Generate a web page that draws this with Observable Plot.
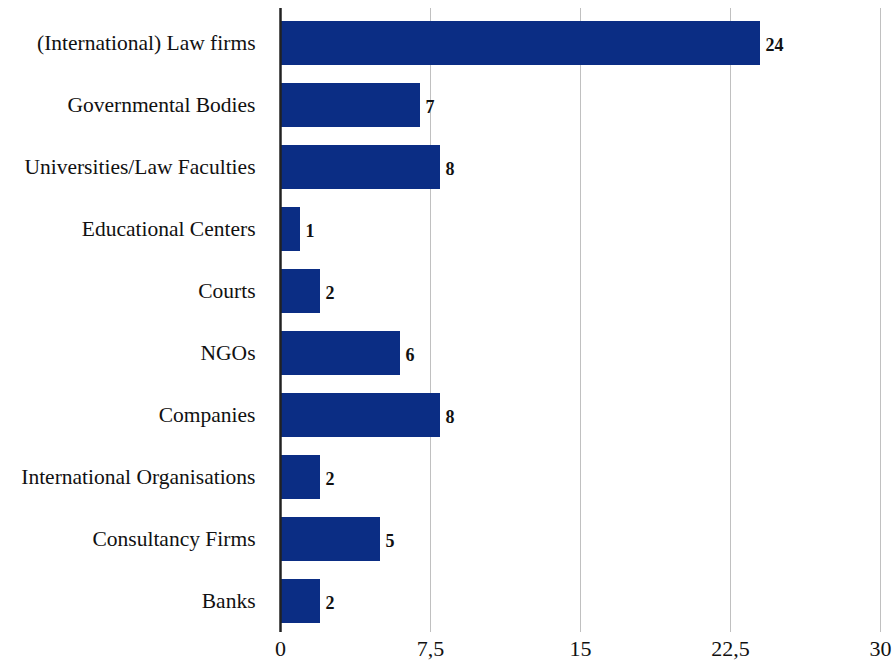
<!DOCTYPE html>
<html>
<head>
<meta charset="utf-8">
<script src="https://cdn.jsdelivr.net/npm/d3@7"></script>
<script src="https://cdn.jsdelivr.net/npm/@observablehq/plot@0.6"></script>
<style>
  html, body { margin: 0; padding: 0; background: #fff; }
  #chart svg { display: block; }
</style>
</head>
<body>
<div id="chart"></div>
<script>
const categories = [
  "(International) Law firms",
  "Governmental Bodies",
  "Universities/Law Faculties",
  "Educational Centers",
  "Courts",
  "NGOs",
  "Companies",
  "International Organisations",
  "Consultancy Firms",
  "Banks"
];
const counts = [24, 7, 8, 1, 2, 6, 8, 2, 5, 2];
const xTicks = [0, 7.5, 15, 22.5, 30];

const data = categories.map((c, i) => ({category: c, count: counts[i]}));
const fmt = v => String(v).replace(".", ",");

const chart = Plot.plot({
  width: 892,
  height: 664,
  marginLeft: 280,
  marginRight: 12,
  marginTop: 12,
  marginBottom: 32,
  style: {fontFamily: "'Liberation Serif', serif", fontSize: "21px", color: "#111", background: "#fff"},
  x: {domain: [0, 30], ticks: xTicks, tickFormat: fmt, label: null},
  y: {domain: categories, paddingInner: 0.29, paddingOuter: 0.145, label: null},
  marks: [
    Plot.axisX({ticks: xTicks, tickFormat: fmt, tickSize: 0, tickPadding: 8, fontSize: 22, label: null}),
    Plot.axisY({tickSize: 0, tickPadding: 25, fontSize: 21.5, label: null}),
    Plot.ruleX(xTicks.filter(d => d > 0), {stroke: "#c0c0c0", strokeWidth: 1, insetTop: -4}),
    Plot.barX(data, {y: "category", x: "count", fill: "#0b2d84"}),
    Plot.text(data, {y: "category", x: "count", text: d => String(d.count), textAnchor: "start", dx: 5, dy: 2, fontWeight: "bold", fontSize: 18, fill: "#111"}),
    Plot.ruleX([0], {stroke: "#222", strokeWidth: 2.5, insetTop: -4})
  ]
});
document.getElementById("chart").appendChild(chart);
</script>
</body>
</html>
